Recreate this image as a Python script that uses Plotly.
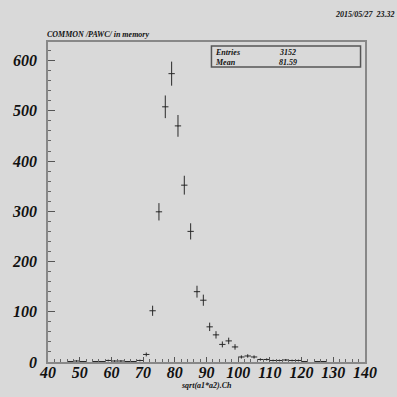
import numpy as np
import plotly.graph_objects as go

# bin centres (width 2) and counts
bin_centers = [47, 49, 51, 55, 57, 59, 61, 63, 65, 67, 69, 71, 73, 75, 77, 79, 81, 83, 85,
               87, 89, 91, 93, 95, 97, 99, 101, 103, 105, 107, 109, 111, 113, 115, 117,
               119, 121, 125, 127]
counts = [1, 2, 1, 1, 1, 3, 2, 2, 1, 1, 3, 15, 102, 299, 508, 574, 470, 352, 260,
          140, 123, 70, 54, 35, 42, 30, 10, 12, 10, 5, 5, 3, 3, 4, 3, 3, 1, 1, 1]
half_width = 1
x_ticks = [40, 50, 60, 70, 80, 90, 100, 110, 120, 130, 140]
y_ticks = [0, 100, 200, 300, 400, 500, 600]
entries = "3152"
mean = "81.59"

errors = np.sqrt(np.array(counts, dtype=float))

FONT = "Liberation Serif"
BG = "#d9d9d9"
INK = "#2a2a2a"

fig = go.Figure()
fig.add_trace(go.Scatter(
    x=bin_centers, y=counts, mode="markers",
    marker=dict(size=1, color=INK),
    error_x=dict(type="constant", value=half_width, width=0, color=INK, thickness=1),
    error_y=dict(type="data", array=errors, visible=True, width=0, color=INK, thickness=1),
    showlegend=False, hoverinfo="x+y",
))

tickfont = dict(family=FONT, size=16, color="#111", weight="bold", style="italic")
fig.update_layout(
    width=397, height=397,
    margin=dict(l=45, r=32, t=42, b=35),
    paper_bgcolor=BG, plot_bgcolor=BG,
    xaxis=dict(range=[40, 140], tickvals=x_ticks, ticks="inside", ticklen=5,
               tickcolor="#555", showgrid=False, zeroline=False,
               showline=True, mirror=True, linecolor="#888", linewidth=1.5,
               tickfont=tickfont, ticklabelstandoff=-5,
               minor=dict(dtick=2, ticks="inside", ticklen=3, tickcolor="#666")),
    yaxis=dict(range=[0, 637], tickvals=y_ticks, ticks="inside", ticklen=7,
               tickcolor="#555", showgrid=False, zeroline=False,
               showline=True, mirror=True, linecolor="#888", linewidth=1.5,
               tickfont=tickfont, ticklabelstandoff=6,
               minor=dict(dtick=20, ticks="inside", ticklen=3, tickcolor="#666")),
)

small = dict(family=FONT, size=8, color="#111")


def px(xp):
    return (xp - 45) / (397 - 45 - 32)


def py(yp):
    return (397 - 35 - yp) / (397 - 42 - 35)


fig.add_annotation(x=px(395), y=py(15), xref="paper", yref="paper",
                   text="<b><i>2015/05/27  23.32</i></b>", showarrow=False, font=small,
                   xanchor="right", yanchor="middle", borderpad=0)
fig.add_annotation(x=px(43), y=py(35), xref="paper", yref="paper",
                   text="<b><i>COMMON /PAWC/ in memory</i></b>", showarrow=False, font=small,
                   xanchor="left", yanchor="middle", borderpad=0)
fig.add_annotation(x=0.5, y=py(385), xref="paper", yref="paper",
                   text="<b><i>sqrt(a1*a2).Ch</i></b>", showarrow=False, font=small,
                   xanchor="center", yanchor="middle")
# stats box
fig.add_shape(type="rect", xref="paper", yref="paper",
              x0=px(210), x1=px(360.5), y0=py(67), y1=py(46),
              line=dict(color="#555", width=1.5), fillcolor=BG)
fig.add_annotation(x=px(213), y=py(52), xref="paper", yref="paper",
                   text="<b><i>Entries</i></b>", showarrow=False, font=small,
                   xanchor="left", yanchor="middle", borderpad=0)
fig.add_annotation(x=px(287), y=py(52), xref="paper", yref="paper",
                   text="<b><i>" + entries + "</i></b>", showarrow=False, font=small,
                   xanchor="center", yanchor="middle")
fig.add_annotation(x=px(213), y=py(62), xref="paper", yref="paper",
                   text="<b><i>Mean</i></b>", showarrow=False, font=small,
                   xanchor="left", yanchor="middle", borderpad=0)
fig.add_annotation(x=px(287), y=py(62), xref="paper", yref="paper",
                   text="<b><i>" + mean + "</i></b>", showarrow=False, font=small,
                   xanchor="center", yanchor="middle")

fig.write_html("out.html")
